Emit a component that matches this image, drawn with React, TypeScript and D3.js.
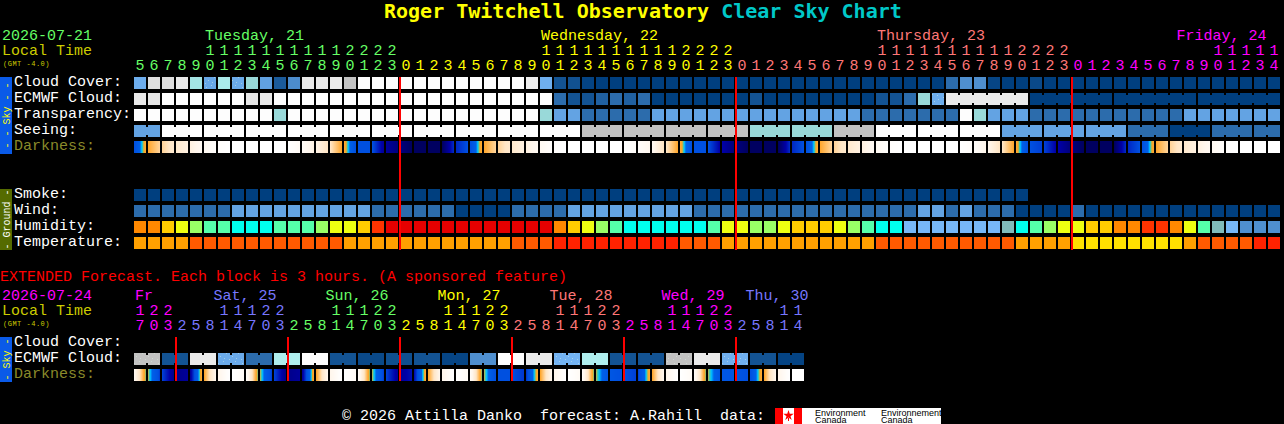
import { useEffect, useRef } from 'react';
import * as d3 from 'd3';

// hour of each column, top chart then extended chart
const mainHours = [5,6,7,8,9,10,11,12,13,14,15,16,17,18,19,20,21,22,23,0,1,2,3,4,5,6,7,8,9,10,11,12,13,14,15,16,17,18,19,20,21,22,23,0,1,2,3,4,5,6,7,8,9,10,11,12,13,14,15,16,17,18,19,20,21,22,23,0,1,2,3,4,5,6,7,8,9,10,11,12,13,14];
const extHours = [17,20,23,2,5,8,11,14,17,20,23,2,5,8,11,14,17,20,23,2,5,8,11,14,17,20,23,2,5,8,11,14,17,20,23,2,5,8,11,14,17,20,23,2,5,8,11,14];

const mainDays = ['Tuesday, 21', 'Wednesday, 22', 'Thursday, 23', 'Friday, 24'];
const mainDayCols = [5, 29, 53, 74.4];
const mainDayColors = ['#66ff66', '#ffff00', '#ff7777', '#ff00ff'];
const extDays = ['Fr', 'Sat, 25', 'Sun, 26', 'Mon, 27', 'Tue, 28', 'Wed, 29', 'Thu, 30'];
const extDayCols = [0, 5.6, 13.6, 21.6, 29.6, 37.6, 43.6];
const extDayColors = ['#ff00ff', '#7777ff', '#66ff66', '#ffff00', '#ff7777', '#ff00ff', '#7777ff'];

// sky rows, 0 = dark blue (good), 100 = white (bad)
const cloudCover = [45,87,87,90,65,42,68,44,60,39,13,29,90,90,90,80,100,100,100,100,100,100,100,100,100,100,100,100,92,46,10,9,2,0,0,0,0,0,0,0,0,0,0,0,0,0,0,0,0,0,0,0,0,0,0,0,0,0,20,30,30,3,0,0,5,0,0,0,0,0,0,0,0,0,0,0,0,0,0,0,0,0];
const ecmwfCloud = [90,89,100,100,100,100,100,100,89,90,100,100,100,100,100,100,100,100,100,100,100,100,100,100,100,100,100,100,100,100,20,10,10,15,20,15,20,0,0,0,0,0,0,0,10,0,0,0,0,0,0,0,0,10,10,20,60,45,90,90,90,90,90,90,0,0,0,0,0,0,0,0,0,0,0,0,0,0,0,0,0,0];
const transparency = [100,100,100,100,100,100,100,100,100,100,60,100,100,100,100,100,100,100,100,100,100,100,100,100,100,100,100,100,100,60,40,40,20,20,20,20,20,40,40,40,40,40,40,40,40,40,40,40,40,40,40,40,20,20,20,20,20,20,20,100,60,40,40,40,20,20,20,20,20,20,20,20,20,20,20,40,40,40,40,40,40,40];
const seeing = [40,40,100,100,100,100,100,100,100,100,100,100,100,100,100,100,100,100,100,100,100,100,100,100,100,100,100,100,100,100,100,100,80,80,80,80,80,80,80,80,80,80,80,80,60,60,60,60,60,60,80,80,80,100,100,100,100,100,100,100,100,100,40,40,40,40,40,40,40,40,40,20,20,20,0,0,0,20,20,20,20,20];
const smoke = [0,0,0,0,0,0,0,0,0,0,0,0,0,0,0,0,0,0,0,0,0,0,0,0,0,0,0,0,0,0,0,0,0,0,0,0,0,0,0,0,0,0,0,0,0,0,0,0,0,0,0,0,0,0,0,0,0,0,0,0,0,0,0,0,null,null,null,null,null,null,null,null,null,null,null,null,null,null,null,null,null,null];
const wind = [20,20,20,20,20,20,20,40,40,40,40,40,40,40,40,40,40,20,20,20,20,20,20,0,0,0,0,20,20,20,20,40,40,40,40,40,40,40,40,40,20,20,20,20,20,20,20,20,20,20,20,20,20,20,20,20,40,40,20,40,20,20,20,0,0,0,0,20,0,0,0,0,0,0,0,0,0,0,0,0,0,0];
const humidity = [70,70,65,60,55,50,50,45,45,45,50,50,50,55,60,60,65,75,80,80,80,80,80,80,80,80,80,80,80,80,70,65,60,55,50,45,45,45,45,45,45,50,60,60,55,55,60,65,65,65,60,55,50,45,45,35,35,35,35,35,35,35,40,45,50,55,60,60,65,65,70,70,75,75,70,60,50,40,35,30,30,30];
const temperature = [21,21,21,21,24,24,24,24,24,24,24,24,24,24,24,21,21,21,21,21,21,21,21,21,21,21,21,24,24,24,27,27,27,27,27,27,27,27,27,24,24,24,21,21,21,21,21,21,21,21,21,21,21,24,24,24,24,24,24,24,24,24,24,21,21,21,21,18,18,18,18,18,18,18,18,21,24,24,24,24,27,27];

// darkness level at the left edge of each cell (last one closes the row)
const darkness = [5,3,2.3,1.8,1.3,0.7,0.2,0,0,0,0,0,0.5,1.2,2,3,5,5,6.2,6.6,7,7,7,5.5,5,3,2.3,1.8,1.3,0.7,0.2,0,0,0,0,0,0.3,0.8,2,3,5,5,6,6.6,7,7,7,5.5,5,3,2.3,1.8,1.3,0.7,0.2,0,0,0,0,0,0.3,1,2,3,5,5.2,6,6.6,7,7,7,5.5,5,3,2.3,1.8,1.3,0.7,0.2,0,0,0,0];

const extEcmwf = [80,80,10,10,90,90,44,44,20,20,70,70,100,100,10,10,5,5,8,8,10,10,3,3,30,30,100,100,90,90,48,48,70,70,10,10,10,10,80,80,90,90,46,46,10,10,2,2];
const extDarkness = [0.8,3.4,5.2,6.4,6.2,3,1,0,0.5,3.4,5.2,6.4,6.2,3,1,0,0.5,3.4,5.2,6.2,5.8,3,1,0,0.5,3.4,5,5,5.3,3,1,0,0.5,3.4,4.6,5,5.2,3,1,0,0.5,3.4,4.6,4.7,5,3,1,0,0];

// first column of each joined block
const seeingBlocks = [0,2,5,8,11,14,17,20,23,26,29,32,35,38,41,44,47,50,53,56,59,62,65,68,71,74,77,80];
const ecmwfBlocks = [58,64,70,76];
const extBlocks = [0,2,4,6,8,10,12,14,16,18,20,22,24,26,28,30,32,34,36,38,40,42,44,46];

// cells with the speckled look
const cloudSpeckled = [5,7];
const ecmwfSpeckled = [57];
const extSpeckled = [0,1,6,7,30,31,38,39,42,43];

const skyDomain = [0,10,20,30,40,50,60,70,80,90,100];
const skyColors = ['#003f7f','#135393','#2c6cac','#4f8fcf','#63a3e3','#77b7f7','#99d9d9','#afeeee','#c2c2c2','#eaeaea','#fdfdfd'];
const humidityDomain = [30,35,40,45,50,55,60,65,70,75,80];
const humidityColors = ['#4f8fcf','#77b7f7','#80bbbb','#00ffee','#55ffaa','#99ff66','#eeff11','#ffcc00','#ff8800','#ff3300','#e60000'];
const temperatureDomain = [18,21,24,27];
const temperatureColors = ['#ffe000','#ffa000','#ff5a00','#ff2200'];
const darknessDomain = [0,1,2,3,3.3,3.5,3.7,4,5,6,7];
const darknessColors = ['#ffffff','#fff6ec','#ffe6c6','#ffa830','#f0a828','#50c8a0','#00c0ff','#0060e8','#0050e0','#0000a8','#000060'];

const MONO = '"Liberation Mono", monospace';

export default function App() {
  const svgRef = useRef<SVGSVGElement>(null);

  useEffect(() => {
    if (!svgRef.current) return;
    document.body.style.margin = '0';
    document.body.style.background = '#000';
    const svg = d3.select(svgRef.current);
    svg.selectAll('*').remove();

    const skyColor = d3.scaleLinear<string>().domain(skyDomain).range(skyColors);
    const humidityColor = d3.scaleOrdinal<number, string>().domain(humidityDomain).range(humidityColors);
    const temperatureColor = d3.scaleOrdinal<number, string>().domain(temperatureDomain).range(temperatureColors);
    const darknessColor = d3.scaleLinear<string>().domain(darknessDomain).range(darknessColors);

    // speckle tile
    const tile = svg.append('defs').append('pattern')
      .attr('id', 'speckle')
      .attr('patternUnits', 'userSpaceOnUse')
      .attr('width', 12).attr('height', 12);
    [[2, 3], [7, 1], [10, 5], [4, 8], [8, 10], [1, 11]].forEach(([px, py]) => {
      tile.append('rect').attr('x', px).attr('y', py).attr('width', 1).attr('height', 1)
        .attr('fill', '#d8f0e0').attr('opacity', 0.5);
    });

    // 12px cells on a 14px pitch
    const columns = (n: number) =>
      d3.scaleBand<number>().domain(d3.range(n)).range([134, 134 + n * 14 - 2]).paddingInner(1 / 7);
    const xMain = columns(mainHours.length);
    const xExt = columns(extHours.length);
    const cell = xMain.bandwidth();

    const label = (txt: string, x: number, y: number, fill: string, size = 15) =>
      svg.append('text')
        .attr('x', x).attr('y', y)
        .attr('fill', fill)
        .style('font-family', MONO)
        .style('font-size', size + 'px')
        .style('white-space', 'pre')
        .text(txt);

    const drawRow = (
      x: d3.ScaleBand<number>,
      y: number,
      values: (number | null)[],
      color: (v: number) => string,
      blocks?: number[],
      speckled?: number[]
    ) => {
      const g = svg.append('g').attr('shape-rendering', 'crispEdges');
      const cols = d3.range(values.length).filter(i => values[i] !== null);
      g.selectAll('rect.c').data(cols).enter().append('rect')
        .attr('class', 'c')
        .attr('x', i => x(i)!)
        .attr('y', y)
        .attr('width', cell)
        .attr('height', cell)
        .attr('fill', i => color(values[i] as number));
      if (blocks) {
        // small bridges between cells of the same block
        const joined = cols.filter(i => i + 1 < values.length && !blocks.includes(i + 1) && i >= blocks[0]);
        g.selectAll('rect.j').data(joined).enter().append('rect')
          .attr('class', 'j')
          .attr('x', i => x(i)! + cell)
          .attr('y', y + 2)
          .attr('width', x.step() - cell)
          .attr('height', cell - 4)
          .attr('fill', i => color(values[i] as number));
      }
      if (speckled) {
        g.selectAll('rect.s').data(speckled).enter().append('rect')
          .attr('class', 's')
          .attr('x', i => x(i)!)
          .attr('y', y)
          .attr('width', cell)
          .attr('height', cell)
          .attr('fill', 'url(#speckle)');
      }
    };

    const drawDarkness = (x: d3.ScaleBand<number>, y: number, edges: number[]) => {
      const g = svg.append('g').attr('shape-rendering', 'crispEdges');
      const px = d3.range(cell);
      d3.range(edges.length - 1).forEach(i => {
        const level = d3.scaleLinear().domain([0, cell - 1]).range([edges[i], edges[i + 1]]);
        g.selectAll(null).data(px).enter().append('rect')
          .attr('x', p => x(i)! + p)
          .attr('y', y)
          .attr('width', 1)
          .attr('height', cell)
          .attr('fill', p => darknessColor(level(p)));
      });
    };

    const drawHours = (
      x: d3.ScaleBand<number>,
      hours: number[],
      dayColors: string[],
      yTens: number,
      yOnes: number
    ) => {
      let day = 0;
      hours.forEach((h, i) => {
        if (i > 0 && h < hours[i - 1]) day += 1;
        const cx = x(i)! + cell / 2;
        label(String(h % 10), cx, yOnes, dayColors[day]).attr('text-anchor', 'middle');
        if (h >= 10) label(String(Math.floor(h / 10)), cx, yTens, dayColors[day]).attr('text-anchor', 'middle');
      });
    };

    const midnightLines = (x: d3.ScaleBand<number>, cols: number[], y0: number, y1: number) => {
      svg.append('g').attr('shape-rendering', 'crispEdges')
        .selectAll('rect').data(cols).enter().append('rect')
        .attr('x', i => x(i)! - 1)
        .attr('y', y0)
        .attr('width', 2)
        .attr('height', y1 - y0)
        .attr('fill', '#ff0000');
    };

    const sideBar = (y0: number, y1: number, fill: string, txt: string, textFill: string) => {
      svg.append('rect').attr('x', 0).attr('y', y0).attr('width', 12).attr('height', y1 - y0)
        .attr('fill', fill).attr('shape-rendering', 'crispEdges');
      svg.append('text')
        .attr('transform', `translate(9.5,${(y0 + y1) / 2}) rotate(-90)`)
        .attr('text-anchor', 'middle')
        .attr('fill', textFill)
        .style('font-family', MONO)
        .style('font-size', '10px')
        .text(txt);
    };

    const gmtNote = (y: number) =>
      label('(GMT -4.0)', 3, y, '#cccc00', 7).style('letter-spacing', '0.5px');

    // title
    const title = svg.append('text').attr('x', 384).attr('y', 18)
      .style('font-family', '"DejaVu Sans Mono", monospace')
      .style('font-size', '20px')
      .style('font-weight', 'bold');
    title.append('tspan').attr('fill', '#ffff00').text('Roger Twitchell Observatory ');
    title.append('tspan').attr('fill', '#00c8c8').text('Clear Sky Chart');

    // top chart header
    label('2026-07-21', 2, 40, '#66ff66');
    label('Local Time', 2, 55, '#cccc00');
    gmtNote(65.5);
    mainDays.forEach((d, i) => label(d, 134 + mainDayCols[i] * 14 + 1, 40, mainDayColors[i]));
    drawHours(xMain, mainHours, mainDayColors, 55, 70);

    // sky block
    sideBar(77, 154, '#0a5ae8', '- - Sky - -', '#ffff00');
    label('Cloud Cover:', 14, 86, '#ffffff');
    label('ECMWF Cloud:', 14, 102, '#ffffff');
    label('Transparency:', 14, 118, '#ffffff');
    label('Seeing:', 14, 134, '#ffffff');
    label('Darkness:', 14, 150, '#8a8a2a');
    drawRow(xMain, 77, cloudCover, skyColor, undefined, cloudSpeckled);
    drawRow(xMain, 93, ecmwfCloud, skyColor, ecmwfBlocks, ecmwfSpeckled);
    drawRow(xMain, 109, transparency, skyColor);
    drawRow(xMain, 125, seeing, skyColor, seeingBlocks);
    drawDarkness(xMain, 141, darkness);

    // ground block
    sideBar(189, 250, '#556b00', '- Ground -', '#ffffff');
    label('Smoke:', 14, 198, '#ffffff');
    label('Wind:', 14, 214, '#ffffff');
    label('Humidity:', 14, 230, '#ffffff');
    label('Temperature:', 14, 246, '#ffffff');
    drawRow(xMain, 189, smoke, skyColor);
    drawRow(xMain, 205, wind, skyColor);
    drawRow(xMain, 221, humidity, v => humidityColor(v));
    drawRow(xMain, 237, temperature, v => temperatureColor(v));
    midnightLines(xMain, d3.range(mainHours.length).filter(i => mainHours[i] === 0), 77, 250);

    // extended forecast
    label('EXTENDED Forecast. Each block is 3 hours. (A sponsored feature)', 0, 281, '#ff0000');
    label('2026-07-24', 2, 300, '#ff00ff');
    label('Local Time', 2, 315, '#cccc00');
    gmtNote(325.5);
    extDays.forEach((d, i) => label(d, 134 + extDayCols[i] * 14 + 1, 300, extDayColors[i]));
    drawHours(xExt, extHours, extDayColors, 315, 330);

    sideBar(337, 382, '#0a5ae8', '- Sky -', '#ffff00');
    label('Cloud Cover:', 14, 346, '#ffffff');
    label('ECMWF Cloud:', 14, 362, '#ffffff');
    label('Darkness:', 14, 378, '#8a8a2a');
    drawRow(xExt, 353, extEcmwf, skyColor, extBlocks, extSpeckled);
    drawDarkness(xExt, 369, extDarkness);
    midnightLines(xExt, d3.range(extHours.length).filter(i => extHours[i] === 2), 337, 381);

    // footer
    label('\u00a9 2026 Attilla Danko  forecast: A.Rahill  data:', 342, 420, '#ffffff');
    svg.append('rect').attr('x', 775).attr('y', 408).attr('width', 166).attr('height', 16).attr('fill', '#ffffff');
    svg.append('rect').attr('x', 775).attr('y', 408).attr('width', 8).attr('height', 16).attr('fill', '#ff0000');
    svg.append('rect').attr('x', 794).attr('y', 408).attr('width', 8).attr('height', 16).attr('fill', '#ff0000');
    svg.append('path').attr('transform', 'translate(788.5,415.5)')
      .attr('d', d3.symbol(d3.symbolStar, 34)()!).attr('fill', '#ff0000');
    svg.append('rect').attr('x', 788).attr('y', 418).attr('width', 1).attr('height', 3).attr('fill', '#ff0000');
    [815, 881].forEach((x, i) => {
      const name = i === 0 ? 'Environment' : 'Environnement';
      svg.append('text').attr('x', x).attr('y', 415.5).attr('fill', '#000')
        .style('font-family', '"Liberation Sans", sans-serif').style('font-size', '9px').text(name);
      svg.append('text').attr('x', x).attr('y', 423).attr('fill', '#000')
        .style('font-family', '"Liberation Sans", sans-serif').style('font-size', '9px').text('Canada');
    });
  }, []);

  return <svg ref={svgRef} width={1284} height={424} style={{ display: 'block', background: '#000' }} />;
}
